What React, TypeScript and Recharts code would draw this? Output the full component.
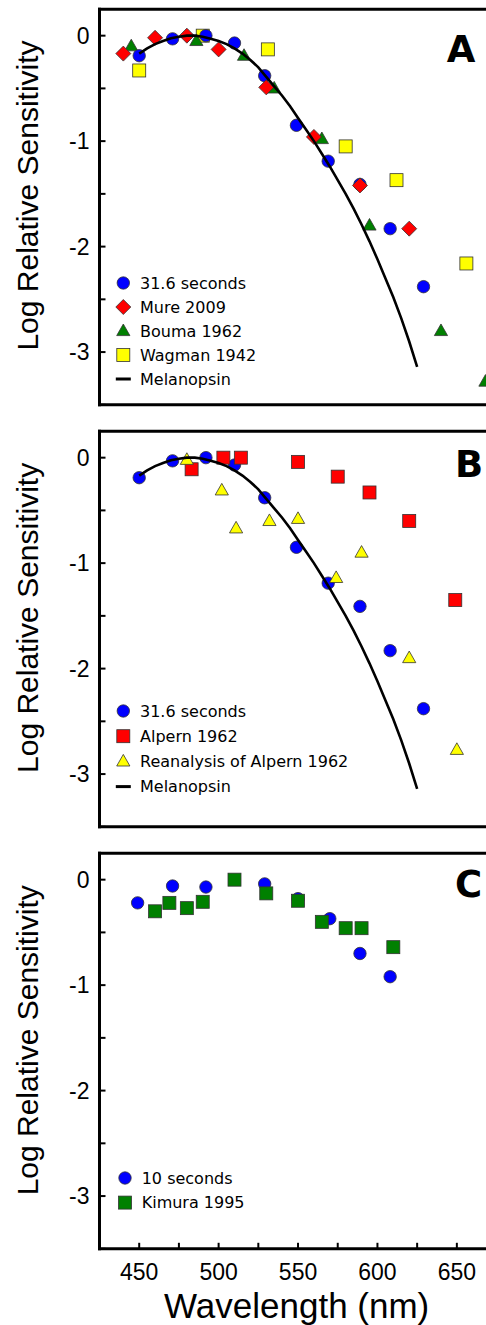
import React from 'react';
import { ScatterChart, Scatter, XAxis, YAxis, Legend } from 'recharts';

// ---------- axis ticks ----------
const wavelengthTicks = [450, 475, 500, 525, 550, 575, 600, 625, 650, 675];
const wavelengthLabels = [450, 500, 550, 600, 650];
const sensitivityTicks = [-3.5, -3, -2.5, -2, -1.5, -1, -0.5, 0];
const sensitivityLabels = [0, -1, -2, -3];

// ---------- data ----------
const sec316Wl = [450, 471, 492, 510, 529, 549, 569, 589, 608, 629];
const sec316Val = [-0.19, -0.03, 0, -0.07, -0.38, -0.85, -1.19, -1.41, -1.83, -2.38];

const mureWl = [440, 460, 480, 500, 530, 560, 589, 620];
const mureVal = [-0.17, -0.02, 0, -0.13, -0.49, -0.96, -1.42, -1.83];

const boumaWl = [445, 486, 516, 535, 565, 595, 640, 668];
const boumaVal = [-0.1, -0.05, -0.19, -0.5, -0.98, -1.8, -2.8, -3.28];

const wagmanWl = [450, 490, 531, 580, 612, 656];
const wagmanVal = [-0.33, 0, -0.13, -1.05, -1.37, -2.16];

const alpernWl = [483, 503, 514, 550, 575, 595, 620, 649];
const alpernVal = [-0.11, 0, 0, -0.04, -0.18, -0.33, -0.6, -1.35];

const reanalysisWl = [480, 502, 511, 532, 550, 574, 590, 620, 650];
const reanalysisVal = [-0.02, -0.31, -0.67, -0.6, -0.58, -1.14, -0.9, -1.9, -2.77];

const sec10Wl = [449, 471, 492, 529, 550, 570, 589, 608];
const sec10Val = [-0.22, -0.06, -0.07, -0.04, -0.18, -0.37, -0.7, -0.92];

const kimuraWl = [460, 469, 480, 490, 510, 530, 550, 565, 580, 590, 610];
const kimuraVal = [-0.3, -0.22, -0.27, -0.21, 0, -0.13, -0.2, -0.4, -0.46, -0.46, -0.64];

const melanopsinWl = [450, 455, 460, 465, 470, 475, 480, 485, 490, 495, 500, 505, 510, 515, 520, 525, 530, 535, 540, 545, 550, 555, 560, 565, 570, 575, 580, 585, 590, 595, 600, 605, 610, 615, 620, 625];
const melanopsinVal = [-0.17, -0.12, -0.08, -0.05, -0.025, -0.01, 0, 0, -0.01, -0.03, -0.05, -0.08, -0.12, -0.17, -0.23, -0.3, -0.39, -0.48, -0.57, -0.67, -0.78, -0.89, -1.0, -1.12, -1.24, -1.37, -1.5, -1.64, -1.79, -1.95, -2.12, -2.3, -2.48, -2.68, -2.9, -3.14];

const pts = (xs: number[], ys: number[]) => xs.map((x, i) => ({ x, y: ys[i] }));

const sec316 = pts(sec316Wl, sec316Val);
const mure = pts(mureWl, mureVal);
const bouma = pts(boumaWl, boumaVal);
const wagman = pts(wagmanWl, wagmanVal);
const alpern = pts(alpernWl, alpernVal);
const reanalysis = pts(reanalysisWl, reanalysisVal);
const sec10 = pts(sec10Wl, sec10Val);
const kimura = pts(kimuraWl, kimuraVal);
const melanopsin = pts(melanopsinWl, melanopsinVal);

// ---------- colours ----------
const BLUE = '#0000ff';
const RED = '#ff0000';
const GREEN = '#008000';
const YELLOW = '#ffff00';
const EDGE = '#333333';

// ---------- marker shapes ----------
type Kind = 'circle' | 'square' | 'diamond' | 'triangle' | 'line';

function Marker({ kind, cx, cy, fill }: { kind: Kind; cx: number; cy: number; fill: string }) {
  if (cx == null || cy == null) return <g />;
  if (kind === 'circle') return <circle cx={cx} cy={cy} r={6.2} fill={fill} stroke={EDGE} strokeWidth={0.8} />;
  if (kind === 'square') return <rect x={cx - 6.5} y={cy - 6.5} width={13} height={13} fill={fill} stroke={EDGE} strokeWidth={0.8} />;
  if (kind === 'diamond')
    return <polygon points={`${cx},${cy - 7.5} ${cx + 7.5},${cy} ${cx},${cy + 7.5} ${cx - 7.5},${cy}`} fill={fill} stroke={EDGE} strokeWidth={0.8} />;
  if (kind === 'triangle')
    return <polygon points={`${cx},${cy - 7} ${cx + 6.6},${cy + 4.6} ${cx - 6.6},${cy + 4.6}`} fill={fill} stroke={EDGE} strokeWidth={0.8} />;
  return <line x1={cx - 7.5} x2={cx + 7.5} y1={cy} y2={cy} stroke="#000" strokeWidth={3} />;
}

const shapeOf = (kind: Kind, fill: string) => (p: any) => <Marker kind={kind} cx={p.cx} cy={p.cy} fill={fill} />;

type SeriesDef = { name: string; kind: Kind; fill: string; data: { x: number; y: number }[] };
type LegendItem = { name: string; kind: Kind; fill: string };

const FONT_SANS = '"Liberation Sans", Arial, sans-serif';
const FONT_VERDANA = '"DejaVu Sans", Verdana, sans-serif';

function makeLegend(items: LegendItem[], step: number, markerX: number, textX: number) {
  return () => (
    <svg width={340} height={items.length * step + 10} style={{ overflow: 'visible', display: 'block' }}>
      {items.map((it, i) => {
        const cy = 12 + i * step;
        return (
          <g key={it.name}>
            <Marker kind={it.kind} cx={markerX} cy={cy} fill={it.fill} />
            <text x={textX} y={cy + 5.8} fontFamily={FONT_VERDANA} fontSize={16} fill="#000">
              {it.name}
            </text>
          </g>
        );
      })}
    </svg>
  );
}

const CHART_W = 504.5;

function Panel({
  top,
  height,
  bottomAxisHeight,
  showXLabels,
  series,
  line,
  legendItems,
  legendTop,
  legendStep,
  legendMarkerX,
  legendTextX,
}: {
  top: number;
  height: number;
  bottomAxisHeight: number;
  showXLabels: boolean;
  series: SeriesDef[];
  line: { x: number; y: number }[] | null;
  legendItems: LegendItem[];
  legendTop: number;
  legendStep: number;
  legendMarkerX: number;
  legendTextX: number;
}) {
  const bottomMargin = height - 8.3 - 1 - 395.5 - bottomAxisHeight;
  return (
    <div style={{ position: 'absolute', left: 0, top, width: CHART_W, height }}>
      <ScatterChart width={CHART_W} height={height} margin={{ top: 8.3, right: 0, bottom: bottomMargin, left: 0 }}>
        <XAxis
          xAxisId="top"
          orientation="top"
          type="number"
          dataKey="x"
          domain={[425, 680]}
          allowDataOverflow
          ticks={wavelengthTicks}
          height={1}
          tick={false}
          tickSize={-6}
          axisLine={{ stroke: '#000', strokeWidth: 3, strokeLinecap: 'square' }}
          tickLine={{ stroke: '#000', strokeWidth: 2 }}
        />
        <XAxis
          xAxisId="main"
          orientation="bottom"
          type="number"
          dataKey="x"
          domain={[425, 680]}
          allowDataOverflow
          ticks={wavelengthTicks}
          height={bottomAxisHeight}
          tick={showXLabels ? { fontSize: 23, fill: '#000', fontFamily: FONT_SANS } : false}
          tickFormatter={(v: number) => (wavelengthLabels.includes(v) ? String(v) : '')}
          tickSize={-6}
          tickMargin={21}
          interval={0}
          axisLine={{ stroke: '#000', strokeWidth: 3, strokeLinecap: 'square' }}
          tickLine={{ stroke: '#000', strokeWidth: 2 }}
        />
        <YAxis
          yAxisId="main"
          type="number"
          dataKey="y"
          domain={[-3.5, 0.25]}
          allowDataOverflow
          ticks={sensitivityTicks}
          width={99.5}
          interval={0}
          tick={{ fontSize: 23, fill: '#000', fontFamily: FONT_SANS }}
          tickFormatter={(v: number) => (sensitivityLabels.includes(v) ? String(v) : '')}
          tickSize={-6}
          tickMargin={16}
          axisLine={{ stroke: '#000', strokeWidth: 3, strokeLinecap: 'square' }}
          tickLine={{ stroke: '#000', strokeWidth: 2 }}
        />
        {series.map((s) => (
          <Scatter
            key={s.name}
            name={s.name}
            xAxisId="main"
            yAxisId="main"
            data={s.data}
            fill={s.fill}
            shape={shapeOf(s.kind, s.fill)}
            isAnimationActive={false}
          />
        ))}
        {line && (
          <Scatter
            name="Melanopsin"
            xAxisId="main"
            yAxisId="main"
            data={line}
            line={{ stroke: '#000', strokeWidth: 2.6 }}
            lineType="joint"
            shape={() => <g />}
            isAnimationActive={false}
          />
        )}
        <Legend
          layout="vertical"
          align="center"
          verticalAlign="middle"
          content={makeLegend(legendItems, legendStep, legendMarkerX, legendTextX)}
          wrapperStyle={{ position: 'absolute', left: 0, top: legendTop, width: 340, height: legendItems.length * legendStep + 10 }}
        />
      </ScatterChart>
    </div>
  );
}

const legendA: LegendItem[] = [
  { name: '31.6 seconds', kind: 'circle', fill: BLUE },
  { name: 'Mure 2009', kind: 'diamond', fill: RED },
  { name: 'Bouma 1962', kind: 'triangle', fill: GREEN },
  { name: 'Wagman 1942', kind: 'square', fill: YELLOW },
  { name: 'Melanopsin', kind: 'line', fill: '#000' },
];
const legendB: LegendItem[] = [
  { name: '31.6 seconds', kind: 'circle', fill: BLUE },
  { name: 'Alpern 1962', kind: 'square', fill: RED },
  { name: 'Reanalysis of Alpern 1962', kind: 'triangle', fill: YELLOW },
  { name: 'Melanopsin', kind: 'line', fill: '#000' },
];
const legendC: LegendItem[] = [
  { name: '10 seconds', kind: 'circle', fill: BLUE },
  { name: 'Kimura 1995', kind: 'square', fill: GREEN },
];

const seriesA: SeriesDef[] = [
  { name: 'Wagman 1942', kind: 'square', fill: YELLOW, data: wagman },
  { name: 'Bouma 1962', kind: 'triangle', fill: GREEN, data: bouma },
  { name: '31.6 seconds', kind: 'circle', fill: BLUE, data: sec316 },
  { name: 'Mure 2009', kind: 'diamond', fill: RED, data: mure },
];
const seriesB: SeriesDef[] = [
  { name: '31.6 seconds', kind: 'circle', fill: BLUE, data: sec316 },
  { name: 'Alpern 1962', kind: 'square', fill: RED, data: alpern },
  { name: 'Reanalysis of Alpern 1962', kind: 'triangle', fill: YELLOW, data: reanalysis },
];
const seriesC: SeriesDef[] = [
  { name: '10 seconds', kind: 'circle', fill: BLUE, data: sec10 },
  { name: 'Kimura 1995', kind: 'square', fill: GREEN, data: kimura },
];

const panelTops = [0, 422.4, 844.4];
const yLabelCenters = [195.5, 617.9, 1040.3];
const letters = [
  { t: 'A', x: 461, y: 61.7 },
  { t: 'B', x: 469, y: 476.7 },
  { t: 'C', x: 468.5, y: 896.5 },
];

export default function App() {
  return (
    <div style={{ position: 'absolute', left: 0, top: 0, width: 486, height: 1325, overflow: 'hidden', background: '#fff' }}>
      <Panel
        top={panelTops[0]}
        height={422}
        bottomAxisHeight={1}
        showXLabels={false}
        series={seriesA}
        line={melanopsin}
        legendItems={legendA}
        legendTop={270.5}
        legendStep={24}
        legendMarkerX={123.3}
        legendTextX={140}
      />
      <Panel
        top={panelTops[1]}
        height={422}
        bottomAxisHeight={1}
        showXLabels={false}
        series={seriesB}
        line={melanopsin}
        legendItems={legendB}
        legendTop={276.6}
        legendStep={25.2}
        legendMarkerX={123.3}
        legendTextX={140}
      />
      <Panel
        top={panelTops[2]}
        height={480.6}
        bottomAxisHeight={75.8}
        showXLabels={true}
        series={seriesC}
        line={null}
        legendItems={legendC}
        legendTop={321.3}
        legendStep={24.6}
        legendMarkerX={125}
        legendTextX={141.7}
      />
      <svg width={486} height={1325} style={{ position: 'absolute', left: 0, top: 0, pointerEvents: 'none' }}>
        {yLabelCenters.map((cy, i) => (
          <text
            key={i}
            x={38.3}
            y={cy}
            transform={`rotate(-90 38.3 ${cy})`}
            textAnchor="middle"
            fontFamily={FONT_SANS}
            fontSize={30}
            fill="#000"
          >
            Log Relative Sensitivity
          </text>
        ))}
        {letters.map((l) => (
          <text key={l.t} x={l.x} y={l.y} textAnchor="middle" fontFamily={FONT_VERDANA} fontWeight="bold" fontSize={37} fill="#000">
            {l.t}
          </text>
        ))}
        <text x={296.7} y={1318.3} textAnchor="middle" fontFamily={FONT_SANS} fontSize={35} fill="#000">
          Wavelength (nm)
        </text>
      </svg>
    </div>
  );
}
